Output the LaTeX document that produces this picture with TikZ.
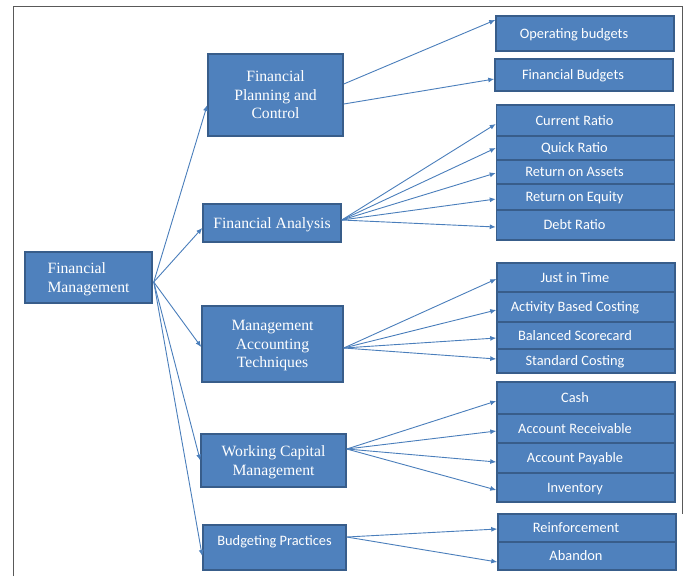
\documentclass[tikz,border=0pt]{standalone}
\usepackage{fontspec}
\setmainfont{Liberation Serif}
\newfontfamily\calibri{Carlito}
\usetikzlibrary{calc,arrows.meta}
\definecolor{boxfill}{HTML}{4F81BD}
\definecolor{boxline}{HTML}{385D8A}
\definecolor{arrowc}{HTML}{4A7EBB}
\definecolor{framec}{HTML}{595959}
\tikzset{
  midbox/.style={draw=boxline, fill=boxfill, line width=1.5pt, inner sep=0pt,
    text=white, align=center, font=\fontsize{15.7}{18.5}\selectfont, text depth=0pt},
  rbox/.style={draw=boxline, fill=boxfill, line width=1.5pt, inner sep=0pt,
    text=white, minimum width=178pt, font=\calibri\fontsize{14.4}{17}\selectfont,
    text height=11pt, text depth=2pt,
    execute at begin node=\hspace*{-22pt}},
  conn/.style={draw=arrowc, line width=0.9pt, -{Latex[length=6pt,width=5pt]}},
}
\begin{document}
\begin{tikzpicture}[x=1pt,y=-1pt]
\useasboundingbox (0,0) rectangle (683,576);
\draw[framec, line width=1pt] (13,576) -- (13,6.5) -- (682,6.5) -- (682,514);

% left
\node[midbox, minimum width=127pt, minimum height=51pt, align=left] (fm) at (88.5,277.5) {Financial\\Management};
% middle
\node[midbox, minimum width=135pt, minimum height=82pt] (fpc) at (275.5,95) {Financial\\Planning and\\Control};
\node[midbox, minimum width=138pt, minimum height=38pt] (fa) at (272,223) {Financial Analysis};
\node[midbox, minimum width=141pt, minimum height=76pt] (mat) at (272.5,344) {Management\\Accounting\\Techniques};
\node[midbox, minimum width=145pt, minimum height=53pt] (wcm) at (273.5,460.5) {Working Capital\\Management};
\node[midbox, minimum width=143pt, minimum height=45pt, font=\calibri\fontsize{14.4}{17}\selectfont, text height=10pt, text depth=14pt] (bp) at (274.5,547.5) {Budgeting Practices};

% right
\node[rbox, minimum height=35pt] (ob) at (585,33.5) {Operating budgets};
\node[rbox, minimum height=32pt] (fb) at (584,75) {Financial Budgets};
\node[rbox, minimum height=31pt] (cr) at (585.5,120.5) {Current Ratio};
\node[rbox, minimum height=24pt] (qr) at (585.5,148) {Quick Ratio};
\node[rbox, minimum height=24pt] (roa) at (585.5,172) {Return on Assets};
\node[rbox, minimum height=26pt] (roe) at (585.5,197) {Return on Equity};
\node[rbox, minimum height=30pt] (dr) at (585.5,225) {Debt Ratio};
\node[rbox, minimum height=29pt] (jit) at (586,277.5) {Just in Time};
\node[rbox, minimum height=30pt] (abc) at (586,307) {Activity Based Costing};
\node[rbox, minimum height=27pt] (bs) at (586,335.5) {Balanced Scorecard};
\node[rbox, minimum height=24pt] (sc) at (586,361) {Standard Costing};
\node[rbox, minimum height=32pt] (cash) at (586,398) {Cash};
\node[rbox, minimum height=29pt] (ar) at (586,428.5) {Account Receivable};
\node[rbox, minimum height=30pt] (ap) at (586,458) {Account Payable};
\node[rbox, minimum height=29pt] (inv) at (586,487.5) {Inventory};
\node[rbox, minimum height=28pt] (rein) at (587,528) {Reinforcement};
\node[rbox, minimum height=28pt] (ab) at (587,556) {Abandon};

% connectors from FM
\coordinate (fmo) at ($(fm.east)+(1,4.5)$);
\draw[conn] (fmo) -- ($(fpc.west)+(0,10)$);
\draw[conn] (fmo) -- ($(fa.west)+(0,5)$);
\draw[conn] (fmo) -- ($(mat.west)+(0,3)$);
\draw[conn] (fmo) -- (wcm.west);
\draw[conn] (fmo) -- ($(bp.west)+(0,8.5)$);

% FPC
\draw[conn] ($(fpc.east)+(0,-11)$) -- ($(ob.west)+(0,-13.5)$);
\draw[conn] ($(fpc.east)+(0,9)$) -- ($(fb.west)+(0,4)$);
% FA
\coordinate (fao) at ($(fa.east)+(0,-3)$);
\draw[conn] (fao) -- ($(cr.west)+(0,3.5)$);
\draw[conn] (fao) -- (qr.west);
\draw[conn] (fao) -- ($(roa.west)+(0,1)$);
\draw[conn] (fao) -- ($(roe.west)+(0,2)$);
\draw[conn] (fao) -- ($(dr.west)+(0,2)$);
% MAT
\coordinate (mato) at ($(mat.east)+(0,4)$);
\draw[conn] (mato) -- ($(jit.west)+(0,1.5)$);
\draw[conn] (mato) -- ($(abc.west)+(0,3)$);
\draw[conn] (mato) -- ($(bs.west)+(0,2.5)$);
\draw[conn] (mato) -- ($(sc.west)+(0,-2)$);
% WCM
\coordinate (wcmo) at ($(wcm.east)+(0,-11.5)$);
\draw[conn] (wcmo) -- ($(cash.west)+(0,3)$);
\draw[conn] (wcmo) -- ($(ar.west)+(0,2.5)$);
\draw[conn] (wcmo) -- ($(ap.west)+(0,4)$);
\draw[conn] (wcmo) -- ($(inv.west)+(0,2.5)$);
% BP
\coordinate (bpo) at ($(bp.east)+(0,-10.5)$);
\draw[conn] (bpo) -- ($(rein.west)+(0,1)$);
\draw[conn] (bpo) -- ($(ab.west)+(0,6)$);
\end{tikzpicture}
\end{document}
